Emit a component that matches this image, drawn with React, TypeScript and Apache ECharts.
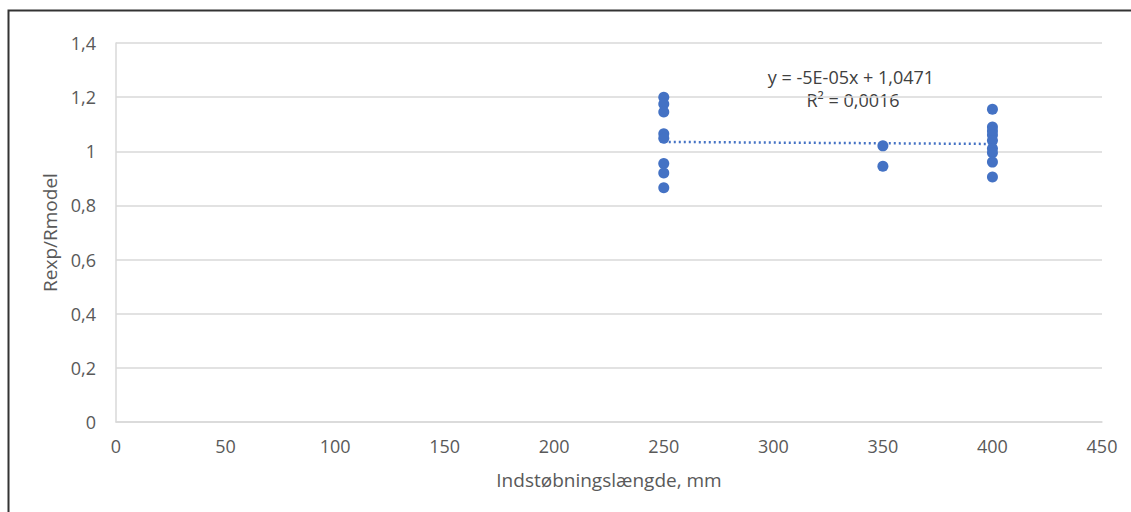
import React, { useEffect, useRef } from "react";
import * as echarts from "echarts";

// Embedment lengths (mm) and measured ratios Rexp/Rmodel for each group
const len250: number[] = [1.2, 1.175, 1.145, 1.065, 1.048, 0.955, 0.92, 0.865];
const len350: number[] = [1.02, 0.945];
const len400: number[] = [1.155, 1.09, 1.075, 1.06, 1.04, 1.01, 0.995, 0.96, 0.905];

// Linear trendline coefficients (y = slope * x + intercept)
const trendSlope = -5e-5;
const trendIntercept = 1.0471;
const trendR2 = "0,0016";
const trendRange: number[] = [250, 400];

const xTicks = { min: 0, max: 450, interval: 50 };
const yTicks = { min: 0, max: 1.4, interval: 0.2 };

const FONT = "'Open Sans', 'Noto Sans', sans-serif";
const BLUE = "#4472c4";
const GREY = "#595959";

const fmtComma = (v: number) => String(Math.round(v * 10) / 10).replace(".", ",");
const fmtCoef = (v: number) => {
  const s = v.toExponential(0).toUpperCase(); // e.g. -5E-5
  const m = s.match(/^(-?\d)E([+-])(\d+)$/);
  return m ? `${m[1]}E${m[2]}${m[3].padStart(2, "0")}` : s;
};

export default function App() {
  const ref = useRef<HTMLDivElement>(null);

  useEffect(() => {
    document.body.style.margin = "0";
    if (!ref.current) return;
    const chart = echarts.init(ref.current, undefined, { renderer: "svg" });

    const points: number[][] = [
      ...len250.map((v) => [250, v]),
      ...len350.map((v) => [350, v]),
      ...len400.map((v) => [400, v]),
    ];
    const trendData = trendRange.map((x) => [x, trendSlope * x + trendIntercept]);
    const eqText = `y = ${fmtCoef(trendSlope)}x + ${String(trendIntercept).replace(".", ",")}`;

    chart.setOption({
      animation: false,
      backgroundColor: "#ffffff",
      grid: { left: 116, right: 29, top: 43, bottom: 90, containLabel: false },
      xAxis: {
        type: "value",
        min: xTicks.min,
        max: xTicks.max,
        interval: xTicks.interval,
        name: "Indstøbningslængde, mm",
        nameLocation: "middle",
        nameGap: 48,
        nameTextStyle: { color: GREY, fontFamily: FONT, fontSize: 19 },
        axisLine: { show: true, lineStyle: { color: "#d9d9d9", width: 1.5 } },
        axisTick: { show: false },
        splitLine: { show: false },
        axisLabel: { color: GREY, fontFamily: FONT, fontSize: 18, margin: 15 },
      },
      yAxis: {
        type: "value",
        min: yTicks.min,
        max: yTicks.max,
        interval: yTicks.interval,
        name: "Rexp/Rmodel",
        nameLocation: "middle",
        nameGap: 50,
        nameTextStyle: { color: GREY, fontFamily: FONT, fontSize: 19 },
        axisLine: { show: true, lineStyle: { color: "#d9d9d9", width: 1.5 } },
        axisTick: { show: false },
        splitLine: { show: true, lineStyle: { color: "#d9d9d9", width: 1.5 } },
        axisLabel: {
          color: GREY,
          fontFamily: FONT,
          fontSize: 18,
          margin: 20,
          formatter: (v: number) => fmtComma(v),
        },
      },
      series: [
        {
          type: "line",
          data: trendData,
          showSymbol: false,
          symbol: "none",
          lineStyle: { color: BLUE, width: 2.5, type: [2, 3] },
          z: 2,
        },
        {
          type: "scatter",
          data: points,
          symbol: "circle",
          symbolSize: 11,
          itemStyle: { color: BLUE, opacity: 1 },
          z: 3,
        },
      ],
      graphic: [
        {
          type: "rect",
          shape: { x: 8.5, y: 10.5, width: 1200, height: 600 },
          style: { fill: "none", stroke: "#333333", lineWidth: 2 },
          silent: true,
        },
        {
          type: "text",
          x: 851,
          y: 77,
          style: {
            text: eqText,
            fill: "#404040",
            font: `18px ${FONT}`,
            align: "center",
            verticalAlign: "middle",
          },
        },
        {
          type: "text",
          x: 853,
          y: 100,
          style: {
            text: `R² = ${trendR2}`,
            fill: "#404040",
            font: `18px ${FONT}`,
            align: "center",
            verticalAlign: "middle",
          },
        },
      ],
    });

    return () => chart.dispose();
  }, []);

  return <div ref={ref} style={{ width: 1131, height: 512 }} />;
}
